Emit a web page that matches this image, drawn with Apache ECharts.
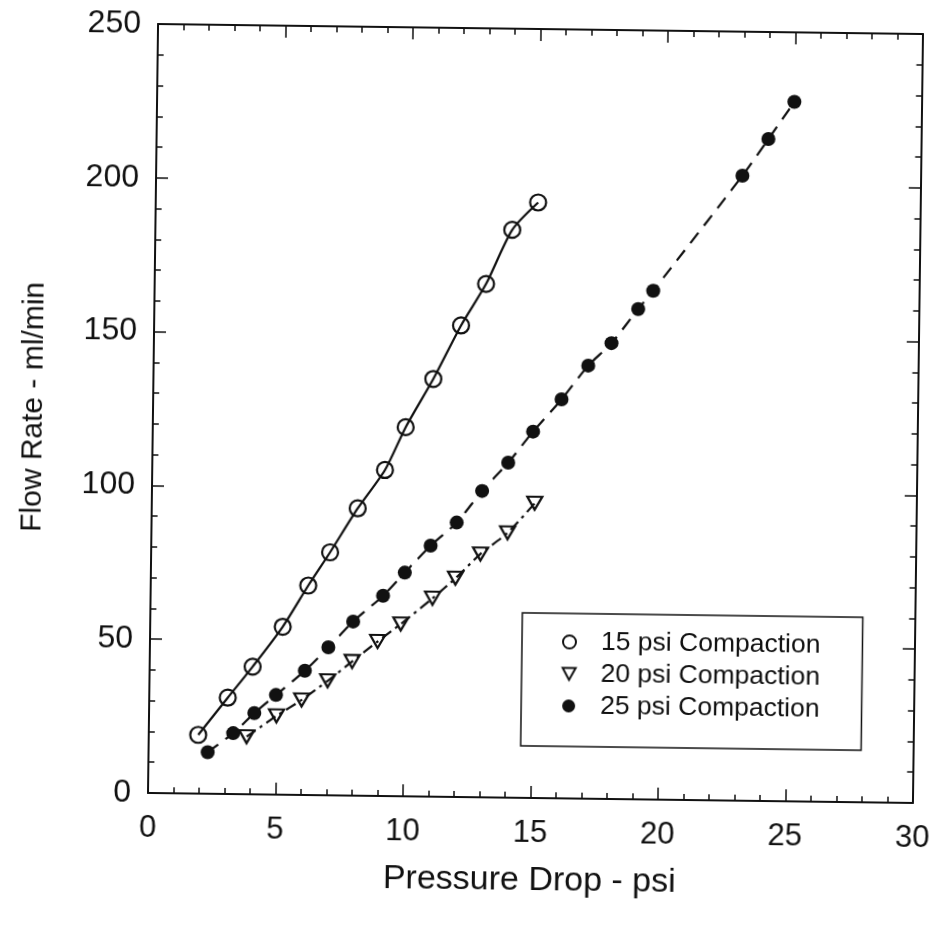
<!DOCTYPE html>
<html>
<head>
<meta charset="utf-8">
<script src="https://cdn.jsdelivr.net/npm/echarts@6/dist/echarts.min.js"></script>
<style>
html,body{margin:0;padding:0;background:#fff;}
#chart{width:938px;height:926px;transform:rotate(0.75deg);transform-origin:536px 413px;}
</style>
</head>
<body>
<div id="chart"></div>
<script>
// Data
const x15 = [1.94, 3.08, 4.04, 5.2, 6.18, 7.02, 8.08, 9.13, 9.92, 10.98, 12.04, 13.0, 14.0, 15.0];
const y15 = [19.1, 31.3, 41.5, 54.6, 68.1, 79.0, 93.4, 106, 120, 135.8, 153.3, 166.9, 184.6, 193.6];

const x20 = [3.84, 5.0, 5.98, 6.99, 7.94, 8.93, 9.83, 11.06, 11.95, 12.92, 13.97, 15.02];
const y20 = [18.7, 25.6, 30.9, 37.2, 43.6, 50.2, 56.0, 64.5, 71.1, 79.1, 86.1, 95.8];

const x25 = [2.32, 3.31, 4.13, 4.97, 6.09, 7.0, 7.96, 9.12, 9.96, 10.96, 11.97, 12.95, 13.96, 14.92, 16.02, 17.05, 17.95, 18.98, 19.56, 23.0, 24.0, 25.0];
const y25 = [13.5, 19.8, 26.4, 32.4, 40.4, 48.1, 56.6, 65.1, 72.7, 81.6, 89.2, 99.6, 108.9, 119.1, 129.7, 140.8, 148.2, 159.4, 165.4, 203.2, 215.2, 227.4];

const seriesNames = ['15 psi Compaction', '20 psi Compaction', '25 psi Compaction'];
const xTitle = 'Pressure Drop - psi';
const yTitle = 'Flow Rate - ml/min';

function pairs(xs, ys) { return xs.map((x, i) => [x, ys[i]]); }

const FONT = '"Liberation Sans", Arial, Helvetica, sans-serif';
const INK = '#111';

const chart = echarts.init(document.getElementById('chart'), null, {renderer: 'canvas'});

const baseTick = {
  axisLine: {show: true, onZero: false, lineStyle: {color: INK, width: 2}},
  axisTick: {show: true, inside: true, length: 12, lineStyle: {color: INK, width: 1.5}},
  minorTick: {show: true, splitNumber: 5, length: 6, lineStyle: {color: INK, width: 1.5}},
  splitLine: {show: false},
  minorSplitLine: {show: false}
};

chart.setOption({
  backgroundColor: '#fff',
  animation: false,
  grid: {left: 153, top: 29, width: 766, height: 769, containLabel: false},
  xAxis: [
    Object.assign({
      type: 'value', min: 0, max: 30, interval: 5, position: 'bottom',
      axisLabel: {fontSize: 31, color: INK, fontFamily: FONT, margin: 20},
      name: xTitle, nameLocation: 'middle', nameGap: 66,
      nameTextStyle: {fontSize: 34, color: INK, fontFamily: FONT}
    }, baseTick),
    Object.assign({
      type: 'value', min: 0, max: 30, interval: 5, position: 'top',
      axisLabel: {show: false}
    }, baseTick)
  ],
  yAxis: [
    Object.assign({
      type: 'value', min: 0, max: 250, interval: 50, position: 'left',
      axisLabel: {fontSize: 32, color: INK, fontFamily: FONT, margin: 17},
      name: yTitle, nameLocation: 'middle', nameGap: 104, nameRotate: 90,
      nameTextStyle: {fontSize: 30, color: INK, fontFamily: FONT}
    }, baseTick),
    Object.assign({
      type: 'value', min: 0, max: 250, interval: 50, position: 'right',
      axisLabel: {show: false}
    }, baseTick)
  ],
  legend: {
    orient: 'vertical',
    left: 525, top: 613,
    padding: [15, 42, 27, 40],
    itemGap: 5,
    itemWidth: 13, itemHeight: 13,
    borderColor: INK, borderWidth: 1.5,
    backgroundColor: '#fff',
    textStyle: {fontSize: 26.5, color: INK, fontFamily: FONT, padding: [0, 0, 0, 20]},
    data: [
      {name: seriesNames[0], icon: 'circle', itemStyle: {color: '#fff', borderColor: INK, borderWidth: 2}},
      {name: seriesNames[1], icon: 'path://M0,0 L12,0 L6,11 Z', itemStyle: {color: '#fff', borderColor: INK, borderWidth: 2}},
      {name: seriesNames[2], icon: 'circle', itemStyle: {color: INK, borderColor: INK, borderWidth: 0}}
    ]
  },
  series: [
    {
      name: seriesNames[0], type: 'line', data: pairs(x15, y15),
      smooth: 0.25,
      symbol: 'circle', symbolSize: 16,
      itemStyle: {color: 'rgba(255,255,255,0)', borderColor: INK, borderWidth: 2.2},
      lineStyle: {color: INK, width: 2.2, type: 'solid'},
      z: 3
    },
    {
      name: seriesNames[1], type: 'line', data: pairs(x20, y20),
      smooth: 0.25,
      symbol: 'triangle', symbolRotate: 180, symbolSize: [15, 13],
      itemStyle: {color: 'rgba(255,255,255,0)', borderColor: INK, borderWidth: 2.2},
      lineStyle: {color: INK, width: 2.2, type: [11, 5, 3, 5]},
      z: 3
    },
    {
      name: seriesNames[2], type: 'line', data: pairs(x25, y25),
      smooth: 0.25,
      symbol: 'circle', symbolSize: 14,
      itemStyle: {color: INK, borderColor: INK, borderWidth: 0},
      lineStyle: {color: INK, width: 2.2, type: [13, 9]},
      z: 3
    }
  ]
});
</script>
</body>
</html>
